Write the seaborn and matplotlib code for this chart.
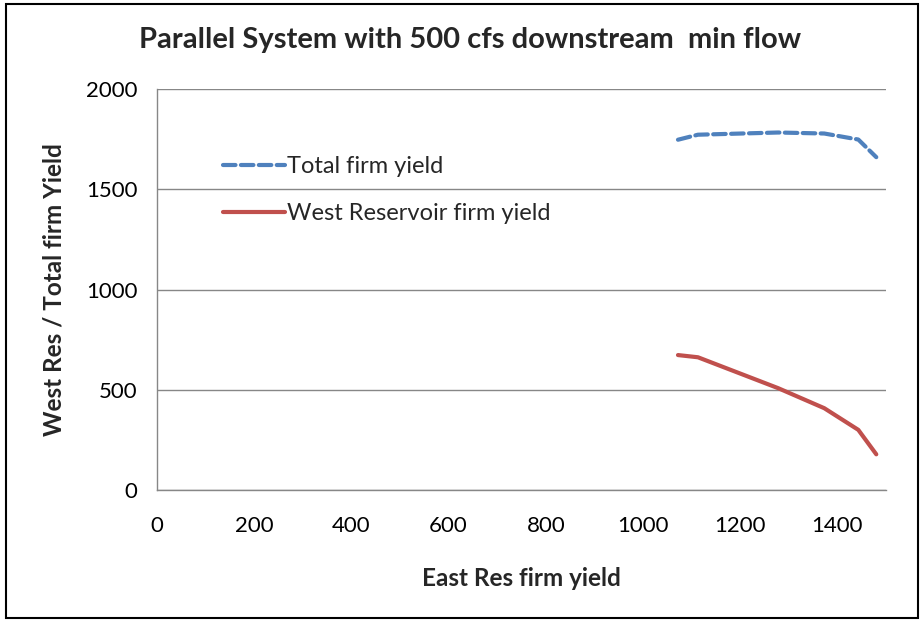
import numpy as np
import pandas as pd
import seaborn as sns
from matplotlib import pyplot as plt
from matplotlib.patches import Rectangle

# values
east_yield = [1072, 1113, 1278, 1373, 1443, 1480]
west_yield = [673, 662, 508, 408, 300, 178]
total_yield = [1747, 1772, 1783, 1778, 1748, 1660]
x_ticks = [0, 200, 400, 600, 800, 1000, 1200, 1400]
y_ticks = [0, 500, 1000, 1500, 2000]

df = pd.DataFrame({"east": east_yield, "west": west_yield, "total": total_yield})

sns.set_style("white")
plt.rcParams['font.family'] = ['Lato', 'DejaVu Sans']

fig = plt.figure(figsize=(9.23, 6.22), dpi=100)
ax = fig.add_axes([157 / 923, 1 - 490 / 622, (886 - 157) / 923, (490 - 89) / 622])

sns.lineplot(data=df, x="east", y="total", ax=ax, sort=False, color="#4F81BD",
             linewidth=3, label="Total firm yield")
ax.lines[-1].set_dashes((3, 1.3))
ax.lines[-1].set_dash_capstyle("round")
sns.lineplot(data=df, x="east", y="west", ax=ax, sort=False, color="#C0504D",
             linewidth=3, label="West Reservoir firm yield")

ax.set_xlim(0, 1500)
ax.set_ylim(0, 2000)
ax.set_xticks(x_ticks)
ax.set_yticks(y_ticks)
ax.tick_params(labelsize=16, labelcolor="#000000", color="#878787", length=5, width=1, direction="out")
ax.tick_params(axis="x", pad=14)
ax.tick_params(axis="y", pad=9)
ax.yaxis.grid(True, color="#878787", linewidth=1)
ax.set_axisbelow(True)
for s in ["top", "right"]:
    ax.spines[s].set_visible(False)
for s in ["left", "bottom"]:
    ax.spines[s].set_color("#878787")
    ax.spines[s].set_linewidth(1)

ax.set_xlabel("East Res firm yield", fontsize=17.5, fontweight="bold", labelpad=22)
ax.set_ylabel("West Res / Total firm Yield", fontsize=17.5, fontweight="bold", labelpad=15)
fig.suptitle("Parallel System with 500 cfs downstream  min flow", x=470 / 923, y=1 - 40 / 622,
             va="center", fontsize=21, fontweight="bold")

leg = ax.legend(loc="upper left", bbox_to_anchor=(0.062, 0.885), frameon=False, fontsize=17,
                handlelength=2.6, handletextpad=0.1, labelspacing=1.1)

fig.patches.append(Rectangle((6 / 923, 4 / 622), 912 / 923, 614 / 622, transform=fig.transFigure,
                             fill=False, edgecolor="black", linewidth=1.5))

plt.savefig("out.png", dpi=100)
